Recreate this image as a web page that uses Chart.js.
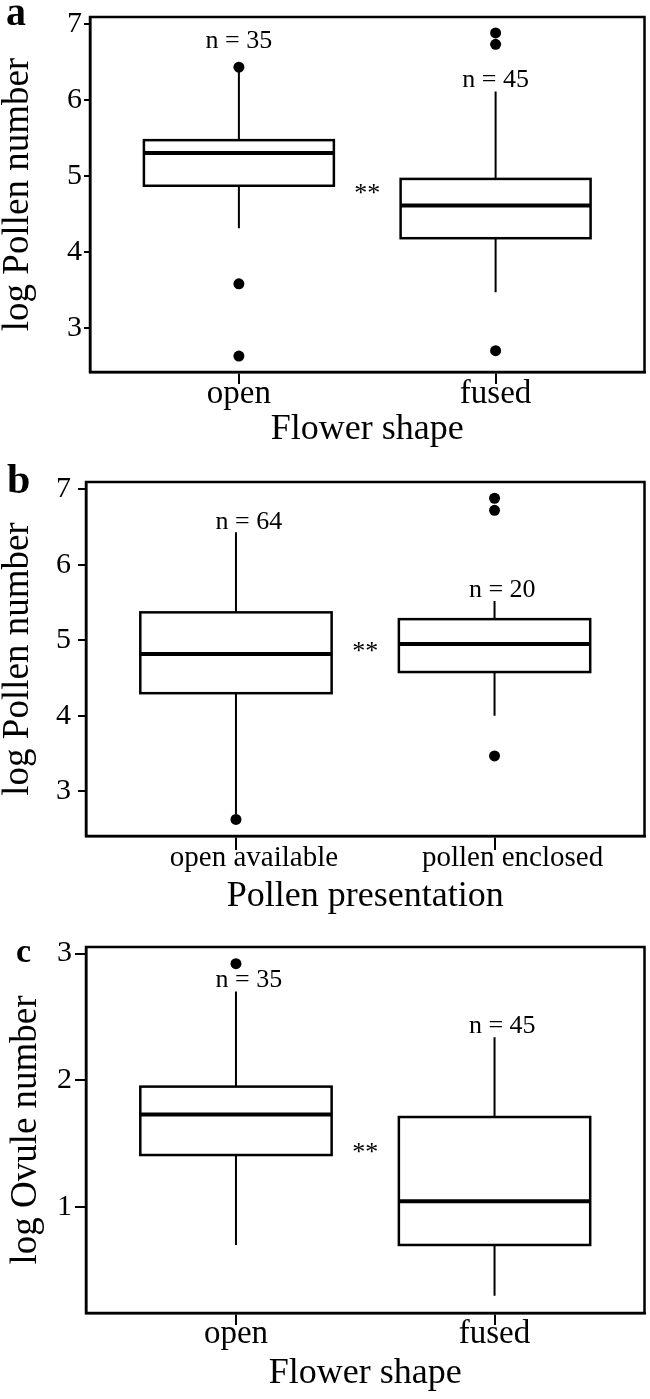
<!DOCTYPE html>
<html>
<head>
<meta charset="utf-8">
<script src="https://cdn.jsdelivr.net/npm/chart.js@4.4.1/dist/chart.umd.min.js"></script>
<style>
  body { margin: 0; background: #fff; width: 650px; }
  .panel { position: relative; width: 650px; }
  canvas { display: block; }
</style>
</head>
<body>
<div class="panel" style="height:460px"><canvas id="chartA"></canvas></div>
<div class="panel" style="height:465px"><canvas id="chartB"></canvas></div>
<div class="panel" style="height:474px"><canvas id="chartC"></canvas></div>
<script>
const FONT = "'Liberation Serif', 'Times New Roman', serif";

// a - log pollen number by flower shape
const shapeCats = ['open', 'fused'];
const pollenShapeLow = [4.31, 3.47];
const pollenShapeQ1 = [4.87, 4.18];
const pollenShapeMedian = [5.30, 4.61];
const pollenShapeQ3 = [5.47, 4.96];
const pollenShapeHigh = [6.37, 6.11];
const pollenShapeOutliers = [[6.43, 3.58, 2.63], [6.88, 6.73, 2.70]];
const pollenShapeN = ['n = 35', 'n = 45'];
const pollenShapeNAt = [[1.0, 6.77], [2.0, 6.26]];

// b - log pollen number by pollen presentation
const presentCats = ['open available', 'pollen enclosed'];
const pollenPresLow = [2.70, 4.00];
const pollenPresQ1 = [4.30, 4.58];
const pollenPresMedian = [4.82, 4.95];
const pollenPresQ3 = [5.37, 5.28];
const pollenPresHigh = [6.43, 5.52];
const pollenPresOutliers = [[2.63], [6.88, 6.72, 3.47]];
const pollenPresN = ['n = 64', 'n = 20'];
const pollenPresNAt = [[1.05, 6.56], [2.03, 5.66]];

// c - log ovule number by flower shape
const ovuleLow = [0.70, 0.30];
const ovuleQ1 = [1.41, 0.70];
const ovuleMedian = [1.73, 1.045];
const ovuleQ3 = [1.95, 1.71];
const ovuleHigh = [2.70, 2.34];
const ovuleOutliers = [[2.92], []];
const ovuleN = ['n = 35', 'n = 45'];
const ovuleNAt = [[1.05, 2.79], [2.03, 2.43]];

const pollenTicks = [3, 4, 5, 6, 7];
const ovuleTicks = [1, 2, 3];
const starAt = [[1.5, 4.81], [1.5, 4.89], [1.5, 1.46]];

const BOX_HALF = 0.37;

function makePanel(id, d, p) {
  const points = [];
  d.outliers.forEach((list, i) => list.forEach(v => points.push({ x: i + 1, y: v })));

  const boxes = {
    id: 'boxes' + id,
    beforeDatasetsDraw(chart) {
      const { ctx, scales: { x, y } } = chart;
      ctx.save();
      ctx.strokeStyle = '#000';
      d.q1.forEach((q1, i) => {
        const cx = x.getPixelForValue(i + 1);
        const l = x.getPixelForValue(i + 1 - BOX_HALF);
        const r = x.getPixelForValue(i + 1 + BOX_HALF);
        const top = y.getPixelForValue(d.q3[i]);
        const bot = y.getPixelForValue(q1);
        ctx.lineWidth = 2;
        ctx.beginPath();
        ctx.moveTo(cx, top); ctx.lineTo(cx, y.getPixelForValue(d.high[i]));
        ctx.moveTo(cx, bot); ctx.lineTo(cx, y.getPixelForValue(d.low[i]));
        ctx.stroke();
        ctx.lineWidth = 2.5;
        ctx.fillStyle = '#fff';
        ctx.fillRect(l, top, r - l, bot - top);
        ctx.strokeRect(l, top, r - l, bot - top);
        const m = y.getPixelForValue(d.median[i]);
        ctx.lineWidth = 4;
        ctx.beginPath();
        ctx.moveTo(l, m); ctx.lineTo(r, m);
        ctx.stroke();
      });
      ctx.restore();
    },
    afterDraw(chart) {
      const { ctx, chartArea: a, scales: { x, y } } = chart;
      ctx.save();
      ctx.strokeStyle = '#000';
      ctx.lineWidth = 2.5;
      ctx.strokeRect(a.left, a.top, a.right - a.left, a.bottom - a.top);
      ctx.fillStyle = '#000';
      ctx.textAlign = 'center';
      ctx.textBaseline = 'middle';
      ctx.font = '26px ' + FONT;
      d.nText.forEach((t, i) => {
        ctx.fillText(t, x.getPixelForValue(d.nAt[i][0]), y.getPixelForValue(d.nAt[i][1]));
      });
      ctx.fillText('**', x.getPixelForValue(d.star[0]), y.getPixelForValue(d.star[1]) + 4);
      ctx.textAlign = 'left';
      ctx.textBaseline = 'alphabetic';
      ctx.font = 'bold ' + p.letterSize + 'px ' + FONT;
      ctx.fillText(p.letter, p.letterX, p.letterY);
      ctx.restore();
    }
  };

  return new Chart(document.getElementById(id), {
    type: 'scatter',
    data: {
      datasets: [{
        data: points,
        pointRadius: 5.5,
        pointBackgroundColor: '#000',
        pointBorderColor: '#000',
        pointBorderWidth: 0
      }]
    },
    options: {
      responsive: true,
      maintainAspectRatio: false,
      animation: false,
      layout: { padding: { top: p.top, right: 2, left: 0, bottom: 0 } },
      plugins: { legend: { display: false }, tooltip: { enabled: false } },
      scales: {
        x: {
          type: 'linear',
          min: 0.42,
          max: 2.58,
          afterBuildTicks: s => { s.ticks = d.cats.map((c, i) => ({ value: i + 1 })); },
          afterFit: s => { s.height = p.xHeight; },
          ticks: {
            callback: v => d.cats[v - 1],
            color: '#000',
            font: { family: FONT, size: p.xTickSize, lineHeight: 1 },
            padding: p.xTickPad,
            labelOffset: p.xLabelOffset,
            maxRotation: 0
          },
          grid: { drawOnChartArea: false, drawTicks: true, tickLength: p.xTickLen, color: '#000', lineWidth: 2 },
          border: { display: true, color: '#000', width: 2.5 },
          title: {
            display: true,
            text: p.xTitle,
            color: '#000',
            font: { family: FONT, size: 36, lineHeight: 1 },
            padding: { top: 0, bottom: p.xTitlePad }
          }
        },
        y: {
          min: p.yMin,
          max: p.yMax,
          afterBuildTicks: s => { s.ticks = p.yTicks.map(v => ({ value: v })); },
          afterFit: s => { s.width = p.yWidth; },
          ticks: {
            callback: v => String(v),
            color: '#000',
            font: { family: FONT, size: 30, lineHeight: 1 },
            padding: p.yTickPad
          },
          grid: { drawOnChartArea: false, drawTicks: true, tickLength: p.yTickLen, color: '#000', lineWidth: 2 },
          border: { display: true, color: '#000', width: 2.5 },
          title: {
            display: true,
            text: p.yTitle,
            color: '#000',
            font: { family: FONT, size: 37, lineHeight: 1 },
            padding: { top: p.yTitlePad, bottom: 0 }
          }
        }
      }
    },
    plugins: [boxes]
  });
}

makePanel('chartA', {
  cats: shapeCats, low: pollenShapeLow, q1: pollenShapeQ1, median: pollenShapeMedian,
  q3: pollenShapeQ3, high: pollenShapeHigh, outliers: pollenShapeOutliers,
  nText: pollenShapeN, nAt: pollenShapeNAt, star: starAt[0]
}, {
  top: 6, yWidth: 90, xHeight: 88, yMin: 2.42, yMax: 7.09, yTicks: pollenTicks,
  yTickLen: 6, yTickPad: 2, yTitlePad: 0, yTitle: 'log Pollen number',
  xTickLen: 12, xTickPad: -6, xTickSize: 33, xLabelOffset: 0, xTitlePad: 12.5, xTitle: 'Flower shape',
  letter: 'a', letterX: 6, letterY: 25, letterSize: 40
});

makePanel('chartB', {
  cats: presentCats, low: pollenPresLow, q1: pollenPresQ1, median: pollenPresMedian,
  q3: pollenPresQ3, high: pollenPresHigh, outliers: pollenPresOutliers,
  nText: pollenPresN, nAt: pollenPresNAt, star: starAt[1]
}, {
  top: 9, yWidth: 86, xHeight: 89, yMin: 2.41, yMax: 7.095, yTicks: pollenTicks,
  yTickLen: 8, yTickPad: 7, yTitlePad: 0, yTitle: 'log Pollen number',
  xTickLen: 14, xTickPad: -6.6, xTickSize: 29, xLabelOffset: 18, xTitlePad: 10, xTitle: 'Pollen presentation',
  letter: 'b', letterX: 7, letterY: 33, letterSize: 42
});

makePanel('chartC', {
  cats: shapeCats, low: ovuleLow, q1: ovuleQ1, median: ovuleMedian,
  q3: ovuleQ3, high: ovuleHigh, outliers: ovuleOutliers,
  nText: ovuleN, nAt: ovuleNAt, star: starAt[2]
}, {
  top: 22, yWidth: 86, xHeight: 86, yMin: 0.163, yMax: 3.052, yTicks: ovuleTicks,
  yTickLen: 11, yTickPad: 3, yTitlePad: 8, yTitle: 'log Ovule number',
  xTickLen: 12, xTickPad: -7.3, xTickSize: 33, xLabelOffset: 0, xTitlePad: 7.5, xTitle: 'Flower shape',
  letter: 'c', letterX: 16, letterY: 37, letterSize: 34
});
</script>
</body>
</html>
